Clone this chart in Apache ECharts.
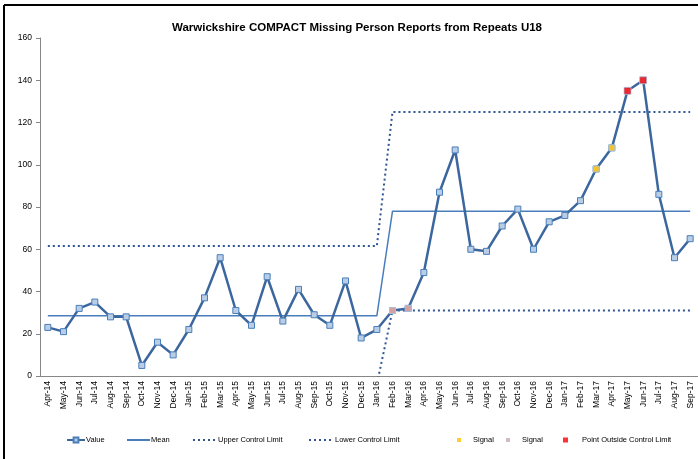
<!DOCTYPE html>
<html>
<head>
<meta charset="utf-8">
<script src="https://cdn.jsdelivr.net/npm/echarts@6/dist/echarts.min.js"></script>
<style>
  html, body { margin: 0; padding: 0; background: #fff; }
  #main { width: 698px; height: 459px; }
</style>
</head>
<body>
<div id="main"></div>
<script>
// months Apr-14 .. Sep-17
var months = ['Apr-14', 'May-14', 'Jun-14', 'Jul-14', 'Aug-14', 'Sep-14', 'Oct-14', 'Nov-14', 'Dec-14',
  'Jan-15', 'Feb-15', 'Mar-15', 'Apr-15', 'May-15', 'Jun-15', 'Jul-15', 'Aug-15', 'Sep-15', 'Oct-15', 'Nov-15', 'Dec-15',
  'Jan-16', 'Feb-16', 'Mar-16', 'Apr-16', 'May-16', 'Jun-16', 'Jul-16', 'Aug-16', 'Sep-16', 'Oct-16', 'Nov-16', 'Dec-16',
  'Jan-17', 'Feb-17', 'Mar-17', 'Apr-17', 'May-17', 'Jun-17', 'Jul-17', 'Aug-17', 'Sep-17'];

var values = [23, 21, 32, 35, 28, 28, 5, 16, 10,
  22, 37, 56, 31, 24, 47, 26, 41, 29, 24, 45, 18,
  22, 31, 32, 49, 87, 107, 60, 59, 71, 79, 60, 73,
  76, 83, 98, 108, 135, 140, 86, 56, 65];

var mean = [28.5, 28.5, 28.5, 28.5, 28.5, 28.5, 28.5, 28.5, 28.5,
  28.5, 28.5, 28.5, 28.5, 28.5, 28.5, 28.5, 28.5, 28.5, 28.5, 28.5, 28.5,
  28.5, 78, 78, 78, 78, 78, 78, 78, 78, 78, 78, 78,
  78, 78, 78, 78, 78, 78, 78, 78, 78];

var upperLimit = [61.5, 61.5, 61.5, 61.5, 61.5, 61.5, 61.5, 61.5, 61.5,
  61.5, 61.5, 61.5, 61.5, 61.5, 61.5, 61.5, 61.5, 61.5, 61.5, 61.5, 61.5,
  61.5, 125, 125, 125, 125, 125, 125, 125, 125, 125, 125, 125,
  125, 125, 125, 125, 125, 125, 125, 125, 125];

var lowerLimit = [-4, -4, -4, -4, -4, -4, -4, -4, -4,
  -4, -4, -4, -4, -4, -4, -4, -4, -4, -4, -4, -4,
  -4, 31, 31, 31, 31, 31, 31, 31, 31, 31, 31, 31,
  31, 31, 31, 31, 31, 31, 31, 31, 31];

var signalYellowMonths = ['Mar-17', 'Apr-17'];
var signalPurpleMonths = ['Feb-16', 'Mar-16'];
var outsideMonths = ['May-17', 'Jun-17'];

function pick(list) {
  return months.map(function (m, i) {
    return list.indexOf(m) >= 0 ? values[i] : '-';
  });
}

var font = "'Liberation Sans', Arial, sans-serif";

// one legend per entry so each can sit where the original has it
function legendItem(item, left, width, height, pad, icon) {
  var l = {
    left: left,
    top: 431,
    itemWidth: width,
    itemHeight: height,
    textStyle: { fontFamily: font, fontSize: 7.5, color: '#000', padding: [0, 0, 0, pad] },
    data: [item]
  };
  if (icon) l.icon = icon;
  return l;
}

var myChart = echarts.init(document.getElementById('main'));
var option = {
  backgroundColor: '#fff',
  animation: false,
  title: {
    text: 'Warwickshire COMPACT Missing Person Reports from Repeats U18',
    left: 167,
    top: 17,
    textStyle: { fontFamily: font, fontSize: 11.5, fontWeight: 'bold', color: '#000' }
  },
  graphic: [
    { type: 'line', shape: { x1: 4, y1: 5, x2: 4, y2: 459 }, style: { stroke: '#000', lineWidth: 2 } },
    { type: 'line', shape: { x1: 4, y1: 5, x2: 698, y2: 5 }, style: { stroke: '#000', lineWidth: 2 } }
  ],
  legend: [
    legendItem('Value', 61, 18, 6, -4),
    legendItem({ name: 'Mean', itemStyle: { opacity: 0 } }, 121, 23, 6, -4),
    legendItem({ name: 'Upper Control Limit', itemStyle: { opacity: 0 } }, 187, 23, 6, -3),
    legendItem({ name: 'Lower Control Limit', itemStyle: { opacity: 0 } }, 303, 24, 6, -3),
    legendItem({ name: 'Signal', itemStyle: { color: '#ffc000', borderWidth: 0 } }, 452, 4, 4, 7, 'rect'),
    legendItem({ name: 'Signal ', itemStyle: { color: '#c9a7b8', borderWidth: 0 } }, 501, 4, 4, 7, 'rect'),
    legendItem({ name: 'Point Outside Control Limit', itemStyle: { color: '#ff0000', borderWidth: 0 } }, 558, 5, 5, 9, 'rect')
  ],
  grid: { left: 40, right: -5, top: 38, bottom: 83 },
  xAxis: {
    type: 'category',
    data: months,
    boundaryGap: true,
    axisLine: { lineStyle: { color: '#868686', width: 1 } },
    axisTick: { show: false },
    axisLabel: { rotate: 90, interval: 0, fontFamily: font, fontSize: 8.5, color: '#000', margin: 5 }
  },
  yAxis: {
    type: 'value',
    min: 0,
    max: 160,
    interval: 20,
    splitLine: { show: false },
    axisLine: { show: true, lineStyle: { color: '#868686' } },
    axisTick: { show: true, length: 4, lineStyle: { color: '#868686' } },
    axisLabel: { fontFamily: font, fontSize: 8.5, color: '#000', margin: 8 }
  },
  series: [
    {
      name: 'Upper Control Limit',
      type: 'line',
      data: upperLimit,
      symbol: 'none',
      color: '#2f5597',
      lineStyle: { color: '#2f5597', width: 2, type: [2, 3] },
      z: 2
    },
    {
      name: 'Lower Control Limit',
      type: 'line',
      data: lowerLimit,
      symbol: 'none',
      color: '#2f5597',
      lineStyle: { color: '#2f5597', width: 2, type: [2, 3] },
      z: 2
    },
    {
      name: 'Mean',
      type: 'line',
      data: mean,
      symbol: 'none',
      color: '#4a7ebb',
      lineStyle: { color: '#4a7ebb', width: 1.5 },
      z: 3
    },
    {
      name: 'Value',
      type: 'line',
      data: values,
      symbol: 'rect',
      symbolSize: 6,
      showSymbol: true,
      color: '#3b679e',
      itemStyle: { color: '#b9cde5', borderColor: '#4a7ebb', borderWidth: 1 },
      lineStyle: { color: '#3b679e', width: 2.5 },
      z: 4
    },
    {
      name: 'Signal',
      type: 'scatter',
      data: pick(signalYellowMonths),
      symbol: 'rect',
      symbolSize: 6,
      itemStyle: { color: '#ffc000', borderColor: '#b9cde5', borderWidth: 1 },
      z: 5
    },
    {
      name: 'Signal ',
      type: 'scatter',
      data: pick(signalPurpleMonths),
      symbol: 'rect',
      symbolSize: 6,
      itemStyle: { color: '#d99694', borderColor: '#b9cde5', borderWidth: 1 },
      z: 5
    },
    {
      name: 'Point Outside Control Limit',
      type: 'scatter',
      data: pick(outsideMonths),
      symbol: 'rect',
      symbolSize: 7,
      itemStyle: { color: '#ff0000', borderColor: '#b9cde5', borderWidth: 1 },
      z: 5
    }
  ]
};
myChart.setOption(option);
</script>
</body>
</html>
